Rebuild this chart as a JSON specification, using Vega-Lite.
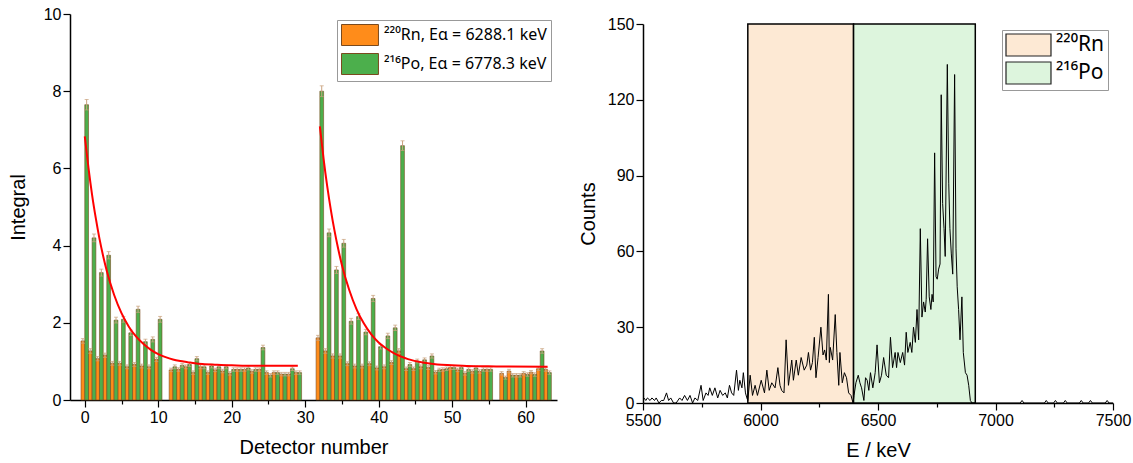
{
  "$schema": "https://vega.github.io/schema/vega-lite/v6.json",
  "background": "white",
  "padding": {"left": 8, "top": 6, "right": 5, "bottom": 5},
  "spacing": 21,
  "config": {
    "font": "Liberation Sans",
    "view": {"stroke": null},
    "axis": {"domainColor": "black", "domainWidth": 1.5, "tickColor": "black", "tickWidth": 1.2, "labelColor": "black", "labelFontSize": 16, "titleFontSize": 20, "titleFontWeight": "normal", "titleColor": "black", "grid": false, "labelPadding": 2, "labelFont": "Liberation Sans", "titleFont": "Liberation Sans"},
    "legend": {"labelFont": "Noto Sans", "labelColor": "black", "labelLimit": 400}
  },
  "resolve": {"scale": {"color": "independent"}},
  "datasets": {
    "bars": [
      {"det": 0, "rn": 1.53, "rnErr": 0.06, "po": 7.65, "poErr": 0.135},
      {"det": 1, "rn": 1.27, "rnErr": 0.06, "po": 4.2, "poErr": 0.1},
      {"det": 2, "rn": 1.07, "rnErr": 0.055, "po": 3.3, "poErr": 0.09},
      {"det": 3, "rn": 1.16, "rnErr": 0.055, "po": 3.75, "poErr": 0.095},
      {"det": 4, "rn": 0.95, "rnErr": 0.05, "po": 2.07, "poErr": 0.075},
      {"det": 5, "rn": 0.95, "rnErr": 0.05, "po": 2.09, "poErr": 0.075},
      {"det": 6, "rn": 0.86, "rnErr": 0.05, "po": 1.74, "poErr": 0.07},
      {"det": 7, "rn": 0.92, "rnErr": 0.05, "po": 2.35, "poErr": 0.08},
      {"det": 8, "rn": 0.88, "rnErr": 0.05, "po": 1.51, "poErr": 0.065},
      {"det": 9, "rn": 0.86, "rnErr": 0.05, "po": 1.57, "poErr": 0.065},
      {"det": 10, "rn": 1.05, "rnErr": 0.055, "po": 2.09, "poErr": 0.075},
      {"det": 12, "rn": 0.78, "rnErr": 0.045, "po": 0.86, "poErr": 0.05},
      {"det": 13, "rn": 0.79, "rnErr": 0.045, "po": 0.9, "poErr": 0.05},
      {"det": 14, "rn": 0.86, "rnErr": 0.05, "po": 0.92, "poErr": 0.05},
      {"det": 15, "rn": 0.71, "rnErr": 0.045, "po": 1.07, "poErr": 0.055},
      {"det": 16, "rn": 0.86, "rnErr": 0.05, "po": 0.86, "poErr": 0.05},
      {"det": 17, "rn": 0.71, "rnErr": 0.045, "po": 0.88, "poErr": 0.05},
      {"det": 18, "rn": 0.78, "rnErr": 0.045, "po": 0.86, "poErr": 0.05},
      {"det": 19, "rn": 0.75, "rnErr": 0.045, "po": 0.86, "poErr": 0.05},
      {"det": 20, "rn": 0.69, "rnErr": 0.045, "po": 0.79, "poErr": 0.045},
      {"det": 21, "rn": 0.79, "rnErr": 0.045, "po": 0.79, "poErr": 0.045},
      {"det": 22, "rn": 0.79, "rnErr": 0.045, "po": 0.83, "poErr": 0.05},
      {"det": 23, "rn": 0.74, "rnErr": 0.045, "po": 0.79, "poErr": 0.045},
      {"det": 24, "rn": 0.79, "rnErr": 0.045, "po": 1.36, "poErr": 0.06},
      {"det": 25, "rn": 0.71, "rnErr": 0.045, "po": 0.64, "poErr": 0.045},
      {"det": 26, "rn": 0.71, "rnErr": 0.045, "po": 0.71, "poErr": 0.045},
      {"det": 27, "rn": 0.67, "rnErr": 0.045, "po": 0.67, "poErr": 0.045},
      {"det": 28, "rn": 0.67, "rnErr": 0.045, "po": 0.81, "poErr": 0.045},
      {"det": 29, "rn": 0.71, "rnErr": 0.045, "po": 0.71, "poErr": 0.045},
      {"det": 32, "rn": 1.61, "rnErr": 0.065, "po": 8.0, "poErr": 0.14},
      {"det": 33, "rn": 1.27, "rnErr": 0.06, "po": 4.33, "poErr": 0.1},
      {"det": 34, "rn": 1.14, "rnErr": 0.055, "po": 3.37, "poErr": 0.09},
      {"det": 35, "rn": 1.14, "rnErr": 0.055, "po": 4.06, "poErr": 0.1},
      {"det": 36, "rn": 0.94, "rnErr": 0.05, "po": 2.04, "poErr": 0.075},
      {"det": 37, "rn": 0.88, "rnErr": 0.05, "po": 2.16, "poErr": 0.075},
      {"det": 38, "rn": 0.88, "rnErr": 0.05, "po": 1.76, "poErr": 0.07},
      {"det": 39, "rn": 0.94, "rnErr": 0.05, "po": 2.63, "poErr": 0.08},
      {"det": 40, "rn": 0.83, "rnErr": 0.05, "po": 1.38, "poErr": 0.06},
      {"det": 41, "rn": 0.86, "rnErr": 0.05, "po": 1.66, "poErr": 0.07},
      {"det": 42, "rn": 0.97, "rnErr": 0.05, "po": 1.87, "poErr": 0.07},
      {"det": 43, "rn": 1.27, "rnErr": 0.06, "po": 6.59, "poErr": 0.125},
      {"det": 44, "rn": 0.81, "rnErr": 0.045, "po": 0.92, "poErr": 0.05},
      {"det": 45, "rn": 0.81, "rnErr": 0.045, "po": 1.01, "poErr": 0.05},
      {"det": 46, "rn": 0.86, "rnErr": 0.05, "po": 1.04, "poErr": 0.05},
      {"det": 47, "rn": 0.84, "rnErr": 0.05, "po": 1.14, "poErr": 0.055},
      {"det": 48, "rn": 0.72, "rnErr": 0.045, "po": 0.78, "poErr": 0.045},
      {"det": 49, "rn": 0.79, "rnErr": 0.045, "po": 0.81, "poErr": 0.045},
      {"det": 50, "rn": 0.84, "rnErr": 0.05, "po": 0.84, "poErr": 0.05},
      {"det": 51, "rn": 0.78, "rnErr": 0.045, "po": 0.84, "poErr": 0.05},
      {"det": 52, "rn": 0.69, "rnErr": 0.045, "po": 0.79, "poErr": 0.045},
      {"det": 53, "rn": 0.74, "rnErr": 0.045, "po": 0.83, "poErr": 0.05},
      {"det": 54, "rn": 0.74, "rnErr": 0.045, "po": 0.79, "poErr": 0.045},
      {"det": 55, "rn": 0.79, "rnErr": 0.045, "po": 0.79, "poErr": 0.045},
      {"det": 57, "rn": 0.69, "rnErr": 0.045, "po": 0.58, "poErr": 0.04},
      {"det": 58, "rn": 0.75, "rnErr": 0.045, "po": 0.64, "poErr": 0.045},
      {"det": 59, "rn": 0.64, "rnErr": 0.045, "po": 0.64, "poErr": 0.045},
      {"det": 60, "rn": 0.69, "rnErr": 0.045, "po": 0.66, "poErr": 0.045},
      {"det": 61, "rn": 0.72, "rnErr": 0.045, "po": 0.66, "poErr": 0.045},
      {"det": 62, "rn": 0.81, "rnErr": 0.045, "po": 1.27, "poErr": 0.06},
      {"det": 63, "rn": 0.79, "rnErr": 0.045, "po": 0.71, "poErr": 0.045}
    ],
    "fit": [
      {"half": "U", "x": 0, "y": 6.83}, {"half": "U", "x": 0.5, "y": 6.02}, {"half": "U", "x": 1, "y": 5.31}, {"half": "U", "x": 1.5, "y": 4.71},
      {"half": "U", "x": 2, "y": 4.18}, {"half": "U", "x": 2.5, "y": 3.73}, {"half": "U", "x": 3, "y": 3.34}, {"half": "U", "x": 4, "y": 2.72},
      {"half": "U", "x": 5, "y": 2.25}, {"half": "U", "x": 6, "y": 1.9}, {"half": "U", "x": 7, "y": 1.64}, {"half": "U", "x": 8, "y": 1.45},
      {"half": "U", "x": 9, "y": 1.3}, {"half": "U", "x": 10, "y": 1.19}, {"half": "U", "x": 11, "y": 1.11}, {"half": "U", "x": 12, "y": 1.05},
      {"half": "U", "x": 13, "y": 1.01}, {"half": "U", "x": 14, "y": 0.98}, {"half": "U", "x": 15, "y": 0.95}, {"half": "U", "x": 16, "y": 0.93},
      {"half": "U", "x": 18, "y": 0.91}, {"half": "U", "x": 20, "y": 0.9}, {"half": "U", "x": 22, "y": 0.89}, {"half": "U", "x": 25, "y": 0.89},
      {"half": "U", "x": 29, "y": 0.89},
      {"half": "L", "x": 32, "y": 7.09}, {"half": "L", "x": 32.5, "y": 6.26}, {"half": "L", "x": 33, "y": 5.54}, {"half": "L", "x": 33.5, "y": 4.92},
      {"half": "L", "x": 34, "y": 4.38}, {"half": "L", "x": 34.5, "y": 3.91}, {"half": "L", "x": 35, "y": 3.5}, {"half": "L", "x": 36, "y": 2.85},
      {"half": "L", "x": 37, "y": 2.35}, {"half": "L", "x": 38, "y": 1.98}, {"half": "L", "x": 39, "y": 1.7}, {"half": "L", "x": 40, "y": 1.49},
      {"half": "L", "x": 41, "y": 1.34}, {"half": "L", "x": 42, "y": 1.22}, {"half": "L", "x": 43, "y": 1.13}, {"half": "L", "x": 44, "y": 1.06},
      {"half": "L", "x": 46, "y": 0.97}, {"half": "L", "x": 48, "y": 0.92}, {"half": "L", "x": 50, "y": 0.9}, {"half": "L", "x": 52, "y": 0.88},
      {"half": "L", "x": 56, "y": 0.87}, {"half": "L", "x": 63, "y": 0.86}
    ],
    "regions": [
      {"nuc": "Rn", "start": 5946, "end": 6396},
      {"nuc": "Po", "start": 6396, "end": 6914}
    ],
    "spec": [
      {"E": 5500, "c": 2}, {"E": 5504, "c": 2}, {"E": 5512, "c": 1}, {"E": 5519, "c": 2}, {"E": 5530, "c": 1}, {"E": 5538, "c": 2},
      {"E": 5549, "c": 1}, {"E": 5556, "c": 2}, {"E": 5568, "c": 0}, {"E": 5578, "c": 1}, {"E": 5588, "c": 1}, {"E": 5600, "c": 4},
      {"E": 5609, "c": 1}, {"E": 5618, "c": 2}, {"E": 5630, "c": 0}, {"E": 5641, "c": 0}, {"E": 5656, "c": 2}, {"E": 5666, "c": 1},
      {"E": 5677, "c": 3}, {"E": 5689, "c": 1}, {"E": 5700, "c": 3}, {"E": 5711, "c": 0}, {"E": 5721, "c": 2}, {"E": 5733, "c": 1},
      {"E": 5747, "c": 7}, {"E": 5756, "c": 1}, {"E": 5768, "c": 4}, {"E": 5777, "c": 3}, {"E": 5784, "c": 6}, {"E": 5795, "c": 3},
      {"E": 5806, "c": 6}, {"E": 5818, "c": 2}, {"E": 5828, "c": 5}, {"E": 5839, "c": 3}, {"E": 5850, "c": 4}, {"E": 5859, "c": 2},
      {"E": 5868, "c": 7}, {"E": 5877, "c": 4}, {"E": 5886, "c": 3}, {"E": 5898, "c": 13}, {"E": 5906, "c": 5}, {"E": 5912, "c": 9},
      {"E": 5921, "c": 6}, {"E": 5927, "c": 12}, {"E": 5936, "c": 4}, {"E": 5942, "c": 2},
      {"E": 5946, "c": 1}, {"E": 5956, "c": 11}, {"E": 5966, "c": 3}, {"E": 5977, "c": 7}, {"E": 5987, "c": 3}, {"E": 6003, "c": 9},
      {"E": 6017, "c": 4}, {"E": 6027, "c": 13}, {"E": 6037, "c": 5}, {"E": 6048, "c": 8}, {"E": 6062, "c": 6}, {"E": 6074, "c": 14},
      {"E": 6083, "c": 7}, {"E": 6090, "c": 5}, {"E": 6100, "c": 4}, {"E": 6109, "c": 25}, {"E": 6119, "c": 7}, {"E": 6133, "c": 17},
      {"E": 6140, "c": 9}, {"E": 6152, "c": 17}, {"E": 6161, "c": 11}, {"E": 6173, "c": 18}, {"E": 6186, "c": 13}, {"E": 6197, "c": 15},
      {"E": 6204, "c": 20}, {"E": 6213, "c": 13}, {"E": 6221, "c": 16}, {"E": 6229, "c": 26}, {"E": 6236, "c": 10}, {"E": 6245, "c": 18},
      {"E": 6257, "c": 30}, {"E": 6266, "c": 19}, {"E": 6273, "c": 21}, {"E": 6280, "c": 17}, {"E": 6289, "c": 43}, {"E": 6293, "c": 16},
      {"E": 6297, "c": 22}, {"E": 6307, "c": 17}, {"E": 6318, "c": 35}, {"E": 6325, "c": 20}, {"E": 6333, "c": 7}, {"E": 6338, "c": 20},
      {"E": 6348, "c": 8}, {"E": 6357, "c": 12}, {"E": 6366, "c": 10}, {"E": 6375, "c": 4}, {"E": 6385, "c": 3}, {"E": 6394, "c": 0},
      {"E": 6398, "c": 3}, {"E": 6406, "c": 8}, {"E": 6416, "c": 11}, {"E": 6423, "c": 8}, {"E": 6430, "c": 6}, {"E": 6440, "c": 1},
      {"E": 6447, "c": 10}, {"E": 6454, "c": 9}, {"E": 6461, "c": 5}, {"E": 6468, "c": 12}, {"E": 6478, "c": 6}, {"E": 6488, "c": 12},
      {"E": 6496, "c": 23}, {"E": 6506, "c": 8}, {"E": 6515, "c": 11}, {"E": 6524, "c": 18}, {"E": 6535, "c": 11}, {"E": 6545, "c": 10},
      {"E": 6553, "c": 26}, {"E": 6562, "c": 14}, {"E": 6573, "c": 20}, {"E": 6579, "c": 14}, {"E": 6585, "c": 20}, {"E": 6595, "c": 16},
      {"E": 6605, "c": 20}, {"E": 6613, "c": 15}, {"E": 6620, "c": 28}, {"E": 6627, "c": 20}, {"E": 6637, "c": 24}, {"E": 6644, "c": 20},
      {"E": 6651, "c": 30}, {"E": 6659, "c": 24}, {"E": 6666, "c": 37}, {"E": 6673, "c": 25}, {"E": 6680, "c": 69}, {"E": 6687, "c": 34},
      {"E": 6694, "c": 40}, {"E": 6701, "c": 36}, {"E": 6705, "c": 41}, {"E": 6711, "c": 65}, {"E": 6718, "c": 42}, {"E": 6725, "c": 37},
      {"E": 6730, "c": 43}, {"E": 6735, "c": 40}, {"E": 6741, "c": 99}, {"E": 6747, "c": 50}, {"E": 6752, "c": 49}, {"E": 6758, "c": 53},
      {"E": 6764, "c": 55}, {"E": 6769, "c": 122}, {"E": 6775, "c": 79}, {"E": 6781, "c": 69}, {"E": 6786, "c": 58}, {"E": 6795, "c": 134},
      {"E": 6801, "c": 87}, {"E": 6806, "c": 69}, {"E": 6812, "c": 59}, {"E": 6818, "c": 51}, {"E": 6826, "c": 130}, {"E": 6832, "c": 61},
      {"E": 6837, "c": 46}, {"E": 6843, "c": 37}, {"E": 6849, "c": 25}, {"E": 6857, "c": 42}, {"E": 6863, "c": 20}, {"E": 6872, "c": 12},
      {"E": 6879, "c": 11}, {"E": 6886, "c": 7}, {"E": 6893, "c": 1}, {"E": 6900, "c": 0}, {"E": 6914, "c": 0},
      {"E": 7105, "c": 0}, {"E": 7113, "c": 1}, {"E": 7121, "c": 0}, {"E": 7208, "c": 0}, {"E": 7216, "c": 1}, {"E": 7224, "c": 0},
      {"E": 7247, "c": 0}, {"E": 7255, "c": 1}, {"E": 7263, "c": 0}, {"E": 7289, "c": 0}, {"E": 7297, "c": 1}, {"E": 7305, "c": 0},
      {"E": 7357, "c": 0}, {"E": 7365, "c": 1}, {"E": 7373, "c": 0}, {"E": 7396, "c": 0}, {"E": 7404, "c": 1}, {"E": 7412, "c": 0},
      {"E": 7467, "c": 0}, {"E": 7475, "c": 1}, {"E": 7483, "c": 0}, {"E": 7500, "c": 0}
    ]
  },
  "hconcat": [
    {
      "width": 487,
      "height": 386,
      "view": {"stroke": null},
      "layer": [
        {
          "data": {"name": "bars"},
          "mark": {"type": "bar", "orient": "vertical", "width": 3.75, "xOffset": -1.875, "stroke": "#7a4a1e", "strokeWidth": 0.6},
          "encoding": {
            "x": {"field": "det", "type": "quantitative", "title": "Detector number", "scale": {"domain": [-1.33, 63.6], "nice": false, "zero": false},
              "axis": {"values": [0, 5, 10, 15, 20, 25, 30, 35, 40, 45, 50, 55, 60], "labelExpr": "datum.value % 10 === 0 ? datum.label : ''",
                "tickSize": {"condition": {"test": "datum.value % 10 !== 0", "value": 4}, "value": 7}, "titlePadding": 12, "labelFlush": false}},
            "y": {"field": "rn", "type": "quantitative", "title": "Integral", "scale": {"domain": [0, 10], "nice": false},
              "axis": {"values": [0, 1, 2, 3, 4, 5, 6, 7, 8, 9, 10], "labelExpr": "datum.value % 2 === 0 ? datum.label : ''",
                "tickSize": {"condition": {"test": "datum.value % 2 !== 0", "value": 4}, "value": 7}, "titlePadding": 15, "labelFlush": false}},
            "color": {"datum": "Rn", "scale": {"domain": ["Rn", "Po"], "range": ["#FF8C1A", "#4CAF4C"]},
              "legend": {"orient": "none", "legendX": 267, "legendY": 6, "title": null, "symbolType": "M-1,-1H2.52V1H-1Z", "symbolSize": 441,
                "symbolStrokeColor": "#7a4a1e", "symbolStrokeWidth": 1, "labelFontSize": 16, "labelOffset": 21, "rowPadding": 3, "padding": 4,
                "strokeColor": "#999999", "fillColor": "white", "symbolOpacity": 1,
                "labelExpr": "datum.label == 'Rn' ? '²²⁰Rn, Eα = 6288.1 keV' : '²¹⁶Po, Eα = 6778.3 keV'"}}
          }
        },
        {
          "data": {"name": "bars"},
          "mark": {"type": "bar", "orient": "vertical", "width": 3.75, "xOffset": 1.875, "stroke": "#7a4a1e", "strokeWidth": 0.6},
          "encoding": {
            "x": {"field": "det", "type": "quantitative", "title": "Detector number"},
            "y": {"field": "po", "type": "quantitative", "title": "Integral"},
            "color": {"datum": "Po"}
          }
        },
        {
          "data": {"name": "bars"},
          "mark": {"type": "errorbar", "ticks": {"size": 4, "thickness": 1, "color": "#c9a27e", "xOffset": -1.875}, "rule": {"color": "#c9a27e", "strokeWidth": 1, "xOffset": -1.875}},
          "encoding": {
            "x": {"field": "det", "type": "quantitative", "title": "Detector number"},
            "y": {"field": "rn", "type": "quantitative", "title": "Integral"},
            "yError": {"field": "rnErr"}
          }
        },
        {
          "data": {"name": "bars"},
          "mark": {"type": "errorbar", "ticks": {"size": 4, "thickness": 1, "color": "#c9a27e", "xOffset": 1.875}, "rule": {"color": "#c9a27e", "strokeWidth": 1, "xOffset": 1.875}},
          "encoding": {
            "x": {"field": "det", "type": "quantitative", "title": "Detector number"},
            "y": {"field": "po", "type": "quantitative", "title": "Integral"},
            "yError": {"field": "poErr"}
          }
        },
        {
          "data": {"name": "fit"},
          "mark": {"type": "line", "color": "#ff0000", "strokeWidth": 2, "interpolate": "monotone"},
          "encoding": {
            "x": {"field": "x", "type": "quantitative", "title": "Detector number"},
            "y": {"field": "y", "type": "quantitative", "title": "Integral"},
            "detail": {"field": "half"}
          }
        },
        {
          "mark": {"type": "rule", "color": "black", "strokeWidth": 1.5},
          "encoding": {"x": {"datum": 31.5}}
        },
        {
          "mark": {"type": "text", "fontSize": 20, "font": "Liberation Sans", "color": "black"},
          "encoding": {"x": {"datum": 15.6}, "y": {"datum": 9.62}, "text": {"value": "Upper detector half"}}
        },
        {
          "mark": {"type": "text", "fontSize": 20, "font": "Liberation Sans", "color": "black"},
          "encoding": {"x": {"datum": 47.3}, "y": {"datum": 8.08}, "text": {"value": "Lower detector half"}}
        },
        {
          "mark": {"type": "rect", "filled": false, "stroke": "black", "strokeWidth": 1.5},
          "encoding": {"x": {"datum": -1.33}, "x2": {"datum": 63.6}, "y": {"datum": 0}, "y2": {"datum": 10}}
        }
      ]
    },
    {
      "width": 470,
      "height": 389,
      "view": {"stroke": null},
      "layer": [
        {
          "data": {"name": "regions"},
          "mark": {"type": "rect", "stroke": "black", "strokeWidth": 1.5},
          "encoding": {
            "x": {"field": "start", "type": "quantitative", "title": "E / keV", "scale": {"domain": [5500, 7500], "nice": false, "zero": false},
              "axis": {"format": "d", "values": [5500, 5750, 6000, 6250, 6500, 6750, 7000, 7250, 7500],
                "labelExpr": "datum.value % 500 === 0 ? datum.label : ''",
                "tickSize": {"condition": {"test": "datum.value % 500 !== 0", "value": 4}, "value": 7}, "titlePadding": 12, "labelFlush": false}},
            "x2": {"field": "end"},
            "y": {"datum": 0, "type": "quantitative", "title": "Counts", "scale": {"domain": [0, 150], "nice": false, "range": [389, 10]},
              "axis": {"values": [0, 15, 30, 45, 60, 75, 90, 105, 120, 135, 150],
                "labelExpr": "datum.value % 30 === 0 ? datum.label : ''",
                "tickSize": {"condition": {"test": "datum.value % 30 !== 0", "value": 4}, "value": 7}, "titlePadding": 9, "labelFlush": false}},
            "y2": {"datum": 150},
            "color": {"field": "nuc", "type": "nominal", "scale": {"domain": ["Rn", "Po"], "range": ["#FDE9D4", "#DDF5DD"]},
              "legend": {"orient": "none", "legendX": 359, "legendY": 16, "title": null, "symbolType": "M-1,-1H3.09V1H-1Z", "symbolSize": 484,
                "symbolStrokeColor": "#222222", "symbolStrokeWidth": 1.2, "labelFontSize": 21, "labelOffset": 27, "rowPadding": 0, "padding": 3,
                "strokeColor": "#999999", "fillColor": "white", "symbolOpacity": 1,
                "labelExpr": "datum.label == 'Rn' ? '²²⁰Rn' : '²¹⁶Po'"}}
          }
        },
        {
          "data": {"name": "spec"},
          "mark": {"type": "line", "color": "black", "strokeWidth": 1},
          "encoding": {
            "x": {"field": "E", "type": "quantitative", "title": "E / keV"},
            "y": {"field": "c", "type": "quantitative", "title": "Counts"}
          }
        },
        {
          "mark": {"type": "rect", "filled": false, "stroke": "black", "strokeWidth": 1.5},
          "encoding": {"x": {"datum": 5500}, "x2": {"datum": 7500}, "y": {"datum": 0}, "y2": {"datum": 150}}
        }
      ]
    }
  ]
}
